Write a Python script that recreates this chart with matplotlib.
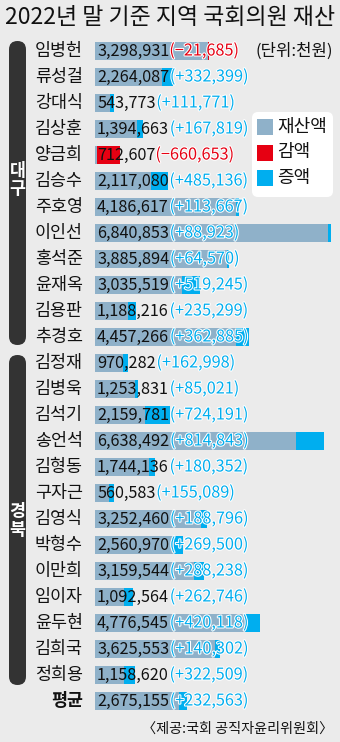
import matplotlib.pyplot as plt
import matplotlib.transforms as mtransforms
from matplotlib.patches import FancyBboxPatch, Rectangle
import matplotlib.patheffects as pe

plt.rcParams['font.family'] = ['Noto Sans CJK KR', 'DejaVu Sans']

# 대구
daegu_names = ['임병헌', '류성걸', '강대식', '김상훈', '양금희', '김승수',
               '주호영', '이인선', '홍석준', '윤재옥', '김용판', '추경호']
daegu_values = [3298931, 2264087, 543773, 1394663, 712607, 2117080,
                4186617, 6840853, 3885894, 3035519, 1188216, 4457266]
daegu_changes = [-21685, 332399, 111771, 167819, -660653, 485136,
                 113667, 88923, 64570, 519245, 235299, 362885]
# 경북
gb_names = ['김정재', '김병욱', '김석기', '송언석', '김형동', '구자근', '김영식',
            '박형수', '이만희', '임이자', '윤두현', '김희국', '정희용']
gb_values = [970282, 1253831, 2159781, 6638492, 1744136, 560583, 3252460,
             2560970, 3159544, 1092564, 4776545, 3625553, 1158620]
gb_changes = [162998, 85021, 724191, 814843, 180352, 155089, 188796,
              269500, 288238, 262746, 420118, 140302, 322509]
avg_name = '평균'
avg_value = 2675155
avg_change = 232563

names = daegu_names + gb_names + [avg_name]
values = daegu_values + gb_values + [avg_value]
changes = daegu_changes + gb_changes + [avg_change]

BG = '#ebebeb'
GRAY = '#8fb1c9'
RED = '#e60012'
BLUE = '#00aeef'

W, H = 340, 742
fig = plt.figure(figsize=(W / 100, H / 100), dpi=100, facecolor=BG)

# bar axes: x from 95px, rows 26px apart
ax = fig.add_axes([95 / W, 1 - 714 / H, 245 / W, 676 / H])
ax.set_facecolor(BG)
ax.set_xlim(0, 245 / 34.5e-6)
ax.set_ylim(len(names) - 0.5, -0.5)
ax.axis('off')

rows = list(range(len(names)))
base = [v - abs(c) for v, c in zip(values, changes)]
delta = [abs(c) for c in changes]
delta_col = [RED if c < 0 else BLUE for c in changes]
ax.barh(rows, base, height=0.66, color=GRAY, zorder=1)
ax.barh(rows, delta, left=base, height=0.66, color=delta_col, zorder=1)

name_tr = mtransforms.blended_transform_factory(fig.transFigure, ax.transData)
for i, (n, v, c) in enumerate(zip(names, values, changes)):
    is_avg = (n == avg_name)
    ax.text(83 / W, i, n, transform=name_tr, ha='right', va='center',
            fontsize=12.5, color='#111', fontweight='bold' if is_avg else 'normal')
    t = ax.annotate(f'{v:,}', xy=(0, i), xytext=(1.5, 0), textcoords='offset points',
                    ha='left', va='center', fontsize=11.7, color='#111', zorder=3)
    sign = '−' if c < 0 else '+'
    ax.annotate(f'({sign}{abs(c):,})', xy=(1, 0.5), xycoords=t,
                xytext=(0.5 if c > 0 else 0, 0), textcoords='offset points',
                ha='left', va='center', fontsize=11.7,
                color=RED if c < 0 else BLUE, zorder=3,
                path_effects=[pe.withStroke(linewidth=1.5, foreground='white')])

# region bars on the left
inch = fig.dpi_scale_trans
for top, bot, label, ly in [(41, 345, '대\n구', 180), (355, 685, '경\n북', 521)]:
    fig.patches.append(FancyBboxPatch((9 / 100, (H - bot) / 100), 17 / 100, (bot - top) / 100,
                                      boxstyle='round,pad=0,rounding_size=0.085',
                                      transform=inch, facecolor='#333333', edgecolor='none'))
    fig.text(17.5 / W, 1 - ly / H, label, ha='center', va='center', color='white',
             fontsize=12.5, fontweight='bold', linespacing=1.0)

# legend
fig.patches.append(FancyBboxPatch((252 / 100, (H - 197) / 100), 81 / 100, 85 / 100,
                                  boxstyle='round,pad=0,rounding_size=0.06',
                                  transform=inch, facecolor='white', edgecolor='none'))
for k, (lab, col) in enumerate([('재산액', GRAY), ('감액', RED), ('증액', BLUE)]):
    cy = 127 + 25.5 * k
    fig.patches.append(Rectangle((257 / 100, (H - cy - 8) / 100), 16 / 100, 16 / 100,
                                 transform=inch, facecolor=col, edgecolor='none'))
    fig.text(277 / W, 1 - cy / H, lab, ha='left', va='center', fontsize=13, color='#111')

fig.text(0.5, 1 - 18 / H, '2022년 말 기준 지역 국회의원 재산', ha='center', va='center',
         fontsize=16.5, fontweight='medium', color='#111')
fig.text(333 / W, 1 - 51 / H, '(단위:천원)', ha='right', va='center', fontsize=12, color='#111')
fig.text(333 / W, 1 - 729 / H, '〈제공:국회 공직자윤리위원회〉', ha='right', va='center',
         fontsize=10.2, color='#111')

fig.savefig('out.png', dpi=100, facecolor=BG)
